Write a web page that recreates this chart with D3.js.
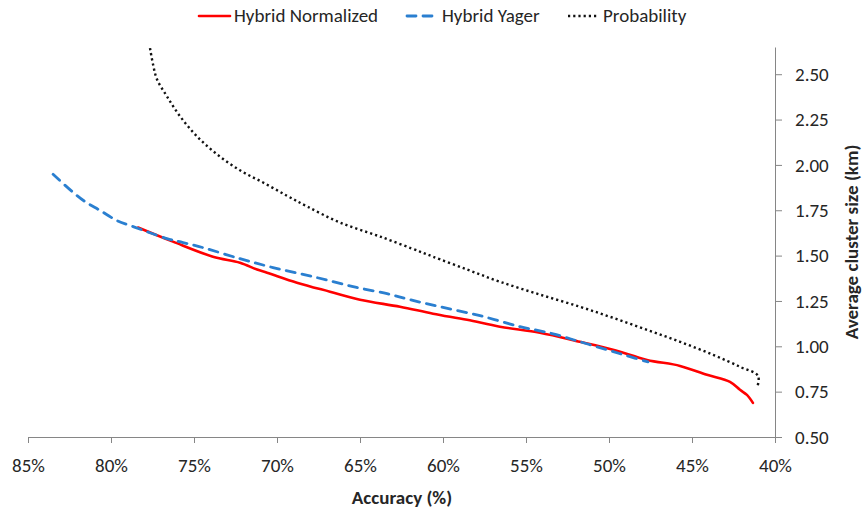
<!DOCTYPE html>
<html><head><meta charset="utf-8">
<script src="https://cdn.jsdelivr.net/npm/d3@7"></script>
<style>body{margin:0;background:#fff}svg{display:block}</style>
</head><body>
<svg id="c" width="862" height="512"></svg>
<script>
const seriesNames = ["Hybrid Normalized", "Hybrid Yager", "Probability"];
const xTicks = [85, 80, 75, 70, 65, 60, 55, 50, 45, 40];
const yTicks = [0.5, 0.75, 1.0, 1.25, 1.5, 1.75, 2.0, 2.25, 2.5];
const normalizedX = [78.37,76.27,73.86,72.23,71.20,70.60,68.80,66.81,65.00,62.59,60.60,58.55,56.57,54.16,51.75,49.76,47.71,45.72,44.10,42.71,42.11,41.69,41.33];
const normalizedY = [1.655,1.577,1.494,1.461,1.423,1.406,1.351,1.301,1.257,1.218,1.180,1.146,1.108,1.075,1.025,0.981,0.925,0.892,0.843,0.804,0.760,0.732,0.688];
const yagerX = [83.49,82.35,81.57,80.66,79.64,78.67,76.63,75.66,74.46,72.23,70.24,67.83,65.42,63.37,61.99,60.18,57.77,55.36,53.37,51.75,50.12,48.92,47.65];
const yagerY = [1.948,1.854,1.798,1.749,1.693,1.660,1.594,1.572,1.544,1.483,1.434,1.384,1.329,1.290,1.257,1.218,1.169,1.108,1.069,1.025,0.981,0.948,0.914];
const probX = [77.65,77.47,77.23,76.63,75.84,74.82,73.61,72.23,70.84,69.40,68.19,66.20,63.79,61.39,60.60,58.55,56.57,54.16,51.75,49.76,47.71,45.72,43.73,42.11,41.02,41.08];
const probY = [2.644,2.555,2.472,2.378,2.268,2.157,2.058,1.970,1.903,1.830,1.771,1.682,1.605,1.522,1.494,1.423,1.356,1.285,1.218,1.157,1.091,1.025,0.953,0.887,0.837,0.771];

const font = "Carlito, Lato, 'Liberation Sans', sans-serif";
const svg = d3.select("#c");
const x = d3.scaleLinear().domain([85, 40]).range([28, 775]);
const y = d3.scaleLinear().domain([0.5, 2.65]).range([437, 47]);
const axisColor = "#868686";
const textColor = "#262626";

// X axis
const xa = svg.append("g").attr("transform", "translate(0,437)")
  .call(d3.axisBottom(x).tickValues(xTicks).tickFormat(d => d + "%").tickSize(6).tickPadding(16).tickSizeOuter(0));
// Y axis
const ya = svg.append("g").attr("transform", "translate(775,0)")
  .call(d3.axisRight(y).tickValues(yTicks).tickFormat(d3.format(".2f")).tickSize(7).tickPadding(13).tickSizeOuter(0));
[xa, ya].forEach(g => {
  g.selectAll("path,line").attr("stroke", axisColor).attr("stroke-width", 1);
  g.selectAll("text").attr("font-family", font).attr("font-size", 19).attr("fill", textColor);
});

const line = d3.line().x(d => x(d[0])).y(d => y(d[1])).curve(d3.curveCatmullRom.alpha(0.5));
const data = [
  {xs: normalizedX, ys: normalizedY, color: "#ff0000", dash: null, width: 2.6, cap: "round"},
  {xs: yagerX, ys: yagerY, color: "#2a7fd0", dash: "9,7", width: 2.8, cap: "round"},
  {xs: probX, ys: probY, color: "#111", dash: "2.2,3", width: 2.4, cap: "butt"}
];
data.forEach(s => {
  const pts = s.xs.map((v, i) => [v, s.ys[i]]);
  svg.append("path").attr("d", line(pts))
    .attr("fill", "none").attr("stroke", s.color).attr("stroke-width", s.width)
    .attr("stroke-dasharray", s.dash).attr("stroke-linecap", s.cap).attr("stroke-linejoin", "round");
});

// Axis titles
svg.append("text").attr("x", 402).attr("y", 504).attr("text-anchor", "middle")
  .attr("font-family", font).attr("font-size", 19).attr("font-weight", "bold").attr("fill", textColor).text("Accuracy (%)");
svg.append("text").attr("transform", "translate(858,242) rotate(-90)").attr("text-anchor", "middle")
  .attr("font-family", font).attr("font-size", 19).attr("font-weight", "bold").attr("fill", textColor).text("Average cluster size (km)");

// Legend
const legX = [199, 407, 568];
data.forEach((s, i) => {
  const g = svg.append("g");
  g.append("line").attr("x1", legX[i]).attr("x2", legX[i] + 31).attr("y1", 16).attr("y2", 16)
    .attr("stroke", s.color).attr("stroke-width", s.width).attr("stroke-dasharray", s.dash).attr("stroke-linecap", s.cap);
  g.append("text").attr("x", legX[i] + 35).attr("y", 22).attr("font-family", font).attr("font-size", 19)
    .attr("fill", textColor).text(seriesNames[i]);
});
</script>
</body></html>
